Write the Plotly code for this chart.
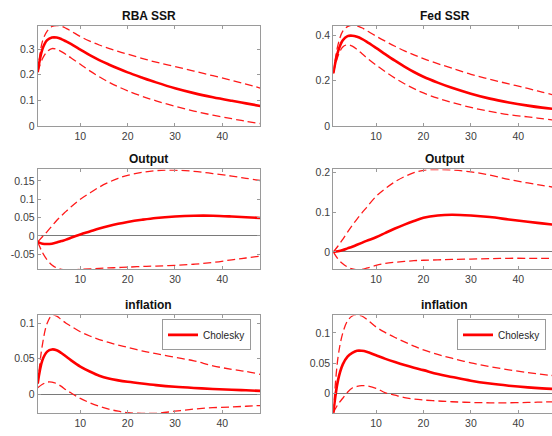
import plotly.graph_objects as go
from plotly.subplots import make_subplots

# ---------------- data ----------------
horizon = [1, 2, 3, 4, 5, 6, 7, 8, 10, 12, 14, 16, 18, 20, 23, 26, 30, 34, 38, 42, 45, 48]

rba_ssr_med = [0.21, 0.30, 0.335, 0.345, 0.345, 0.339, 0.330, 0.320, 0.298, 0.276, 0.257, 0.240,
               0.224, 0.209, 0.189, 0.170, 0.147, 0.128, 0.112, 0.098, 0.088, 0.078]
rba_ssr_up = [0.21, 0.33, 0.37, 0.388, 0.392, 0.389, 0.381, 0.371, 0.349, 0.331, 0.316, 0.303,
              0.291, 0.28, 0.264, 0.249, 0.232, 0.214, 0.196, 0.178, 0.163, 0.148]
rba_ssr_lo = [0.21, 0.262, 0.29, 0.302, 0.299, 0.290, 0.279, 0.266, 0.241, 0.215, 0.192, 0.171,
              0.153, 0.137, 0.116, 0.098, 0.077, 0.058, 0.042, 0.028, 0.018, 0.009]

fed_ssr_med = [0.233, 0.33, 0.38, 0.398, 0.40, 0.395, 0.386, 0.374, 0.346, 0.317, 0.289, 0.263,
               0.239, 0.218, 0.192, 0.169, 0.143, 0.121, 0.104, 0.090, 0.081, 0.074]
fed_ssr_up = [0.233, 0.36, 0.42, 0.44, 0.447, 0.444, 0.435, 0.423, 0.398, 0.375, 0.353, 0.333,
              0.315, 0.298, 0.276, 0.256, 0.229, 0.207, 0.186, 0.166, 0.150, 0.134]
fed_ssr_lo = [0.233, 0.31, 0.35, 0.36, 0.354, 0.339, 0.321, 0.303, 0.27, 0.24, 0.212, 0.187,
              0.165, 0.146, 0.123, 0.104, 0.082, 0.064, 0.05, 0.04, 0.032, 0.025]

rba_out_med = [-0.016, -0.021, -0.022, -0.021, -0.018, -0.014, -0.01, -0.005, 0.004, 0.012, 0.02, 0.027,
               0.033, 0.038, 0.044, 0.049, 0.053, 0.055, 0.055, 0.053, 0.051, 0.049]
rba_out_up = [-0.016, -0.002, 0.012, 0.027, 0.042, 0.055, 0.067, 0.079, 0.1, 0.117, 0.133, 0.146,
              0.157, 0.165, 0.173, 0.178, 0.179, 0.176, 0.17, 0.163, 0.157, 0.151]
rba_out_lo = [-0.016, -0.045, -0.065, -0.079, -0.087, -0.091, -0.092, -0.092, -0.091, -0.09, -0.088, -0.087,
              -0.086, -0.085, -0.083, -0.082, -0.08, -0.077, -0.072, -0.065, -0.06, -0.055]

fed_out_med = [0.0, 0.002, 0.005, 0.009, 0.013, 0.018, 0.023, 0.028, 0.037, 0.048, 0.059, 0.069,
               0.078, 0.086, 0.092, 0.094, 0.092, 0.088, 0.082, 0.076, 0.072, 0.068]
fed_out_up = [0.0, 0.015, 0.032, 0.05, 0.067, 0.083, 0.098, 0.112, 0.14, 0.16, 0.177, 0.19,
              0.2, 0.206, 0.208, 0.207, 0.202, 0.194, 0.183, 0.174, 0.168, 0.162]
fed_out_lo = [0.0, -0.018, -0.03, -0.038, -0.043, -0.045, -0.044, -0.041, -0.034, -0.029, -0.026, -0.024,
              -0.022, -0.021, -0.02, -0.019, -0.018, -0.017, -0.016, -0.016, -0.016, -0.016]

rba_inf_med = [0.015, 0.048, 0.06, 0.063, 0.062, 0.058, 0.053, 0.048, 0.039, 0.032, 0.026, 0.022,
               0.0195, 0.0175, 0.015, 0.0128, 0.0105, 0.0088, 0.0074, 0.0062, 0.0055, 0.0047]
rba_inf_up = [0.015, 0.07, 0.1, 0.111, 0.11, 0.105, 0.1, 0.096, 0.088, 0.082, 0.077, 0.073,
              0.069, 0.066, 0.061, 0.057, 0.052, 0.047, 0.040, 0.035, 0.032, 0.028]
rba_inf_lo = [0.009, 0.014, 0.017, 0.017, 0.015, 0.011, 0.006, 0.002, -0.006, -0.012, -0.017, -0.021,
              -0.024, -0.026, -0.027, -0.027, -0.024, -0.021, -0.019, -0.018, -0.017, -0.016]

fed_inf_med = [-0.032, 0.022, 0.048, 0.061, 0.067, 0.0705, 0.0705, 0.069, 0.063, 0.0571, 0.0518, 0.0469,
               0.0425, 0.0385, 0.0321, 0.0272, 0.021, 0.0163, 0.0127, 0.0099, 0.0083, 0.0071]
fed_inf_up = [-0.032, 0.06, 0.1, 0.12, 0.128, 0.13, 0.128, 0.123, 0.11, 0.1005, 0.0925, 0.0852,
              0.0783, 0.072, 0.0645, 0.0582, 0.0505, 0.0443, 0.039, 0.0345, 0.0315, 0.0288]
fed_inf_lo = [-0.032, -0.018, -0.008, 0.002, 0.009, 0.0115, 0.0127, 0.0125, 0.0085, 0.001, -0.003, -0.007,
              -0.0095, -0.011, -0.0125, -0.0138, -0.015, -0.0155, -0.0155, -0.015, -0.0143, -0.0137]

titles = ["RBA SSR", "Fed SSR", "Output", "Output", "inflation", "inflation"]
legend_label = "Cholesky"

x_tickvals = [10, 20, 30, 40]
x_ticktext = ["10", "20", "30", "40"]

y_tickvals = [
    [0, 0.1, 0.2, 0.3],
    [0, 0.2, 0.4],
    [-0.05, 0, 0.05, 0.1, 0.15],
    [0, 0.1, 0.2],
    [0, 0.05, 0.1],
    [0, 0.05, 0.1],
]
y_ticktext = [
    ["0", "0.1", "0.2", "0.3"],
    ["0", "0.2", "0.4"],
    ["-0.05", "0", "0.05", "0.1", "0.15"],
    ["0", "0.1", "0.2"],
    ["0", "0.05", "0.1"],
    ["0", "0.05", "0.1"],
]

panels = [
    (rba_ssr_med, rba_ssr_up, rba_ssr_lo),
    (fed_ssr_med, fed_ssr_up, fed_ssr_lo),
    (rba_out_med, rba_out_up, rba_out_lo),
    (fed_out_med, fed_out_up, fed_out_lo),
    (rba_inf_med, rba_inf_up, rba_inf_lo),
    (fed_inf_med, fed_inf_up, fed_inf_lo),
]

# ---------------- layout / style ----------------
W, H = 552, 436
y_ranges = [[0, 0.392], [0, 0.445], [-0.091, 0.181], [-0.044, 0.208], [-0.027, 0.111], [-0.033, 0.129]]
row_px = [(23, 125.5), (170, 272), (319, 419)]          # top, bottom in pixels
col_px = [(37.7, 260.2), (333.3, 552.0)]                # left, right in pixels
x_ranges = [[1, 48], [1, 47.1]]

RED = "#ff0000"
AX = "#9a9a9a"
FONT = "Liberation Sans, Arial, Helvetica, sans-serif"

fig = make_subplots(rows=3, cols=2)

for i, (med, up, lo) in enumerate(panels):
    r, c = i // 2 + 1, i % 2 + 1
    for band in (up, lo):
        fig.add_trace(go.Scatter(x=horizon, y=band, mode="lines",
                                 line=dict(color="#ff1a1a", width=1.3, dash="8px,4px", shape="spline"),
                                 showlegend=False, hoverinfo="skip"), row=r, col=c)
    show = (r == 3)
    fig.add_trace(go.Scatter(x=horizon, y=med, mode="lines", name=legend_label,
                             line=dict(color=RED, width=2.6, shape="spline"),
                             showlegend=show, legend=("legend" if c == 1 else "legend2")),
                  row=r, col=c)

annotations = []
for i in range(6):
    r, c = i // 2, i % 2
    n = "" if i == 0 else str(i + 1)
    top, bot = row_px[r]
    left, right = col_px[c]
    xd = [left / W, right / W]
    yd = [1 - bot / H, 1 - top / H]
    fig.layout["xaxis" + n].update(
        domain=xd, range=x_ranges[c], tickvals=x_tickvals, ticktext=x_ticktext,
        showline=True, linecolor=AX, linewidth=1, mirror="allticks",
        ticks="inside", ticklen=3, tickcolor=AX, showgrid=False, zeroline=False,
        tickfont=dict(family=FONT, size=10.5, color="#404040"),
    )
    fig.layout["yaxis" + n].update(
        domain=yd, range=y_ranges[i], tickvals=y_tickvals[i], ticktext=y_ticktext[i],
        showline=True, linecolor=AX, linewidth=1, mirror=("allticks" if c == 0 else False),
        ticks="inside", ticklen=3, tickcolor=AX, showgrid=False,
        zeroline=True, zerolinecolor="#7a7a7a", zerolinewidth=1,
        tickfont=dict(family=FONT, size=10.5, color="#404040"),
    )
    annotations.append(dict(
        text="<b>" + titles[i] + "</b>", xref="x" + n, x=24.5, yref="paper", y=yd[1],
        yanchor="bottom", xanchor="center", yshift=1, showarrow=False,
        font=dict(family=FONT, size=12, color="#111111"),
    ))

leg_common = dict(bgcolor="white", bordercolor="#9a9a9a", borderwidth=1,
                  font=dict(family=FONT, size=10, color="#262626"),
                  xanchor="left", yanchor="top", itemwidth=30, tracegroupgap=0)

fig.update_layout(
    width=W, height=H, margin=dict(l=0, r=0, t=0, b=0),
    paper_bgcolor="white", plot_bgcolor="white",
    annotations=annotations,
    legend=dict(x=162 / W, y=1 - 323 / H, **leg_common),
    legend2=dict(x=457 / W, y=1 - 323 / H, **leg_common),
    font=dict(family=FONT),
)

fig.write_html("out.html")
